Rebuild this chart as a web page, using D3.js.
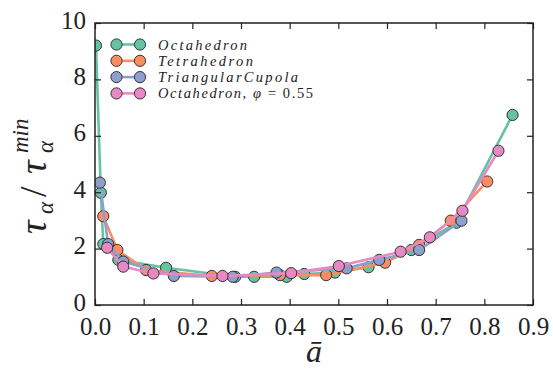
<!DOCTYPE html>
<html>
<head>
<meta charset="utf-8">
<script src="https://cdn.jsdelivr.net/npm/d3@7"></script>
<style>
  body { margin: 0; background: #fff; }
</style>
</head>
<body>
<div id="chart"></div>
<script>
// series: [a_bar, tau/tau_min]
const octahedron = [[0.002, 9.2], [0.012, 3.98], [0.017, 2.16], [0.048, 1.6], [0.146, 1.32],
  [0.288, 1.0], [0.327, 1.0], [0.394, 1.0], [0.43, 1.1], [0.493, 1.15], [0.562, 1.34],
  [0.65, 1.95], [0.743, 2.92], [0.858, 6.74]];
const tetrahedron = [[0.017, 3.15], [0.046, 1.95], [0.105, 1.24], [0.24, 1.03], [0.38, 1.06],
  [0.475, 1.06], [0.596, 1.5], [0.666, 2.13], [0.731, 2.99], [0.806, 4.38]];
const triangularCupola = [[0.01, 4.34], [0.027, 2.16], [0.058, 1.54], [0.162, 1.03], [0.283, 1.0],
  [0.373, 1.15], [0.517, 1.3], [0.584, 1.6], [0.666, 1.95], [0.753, 2.99]];
const octahedronPhi = [[0.025, 2.03], [0.058, 1.36], [0.12, 1.12], [0.262, 1.03], [0.403, 1.13],
  [0.501, 1.38], [0.628, 1.89], [0.688, 2.4], [0.755, 3.34], [0.829, 5.47]];

const seriesNames = ["Octahedron", "Tetrahedron", "TriangularCupola", "Octahedron, φ = 0.55"];
const colors = ["#66c2a5", "#fc8d62", "#8da0cb", "#e78ac3"];
const xTicks = [0, 0.1, 0.2, 0.3, 0.4, 0.5, 0.6, 0.7, 0.8, 0.9];
const yTicks = [0, 2, 4, 6, 8, 10];

const serif = "'Liberation Serif', 'DejaVu Serif', serif";
const margin = {top: 23, right: 20, bottom: 68, left: 95};
const W = 553, H = 373;
const width = W - margin.left - margin.right;
const height = H - margin.top - margin.bottom;

const svg = d3.select("#chart").append("svg")
  .attr("width", W).attr("height", H)
  .attr("font-family", serif);
const chart = svg.append("g")
  .attr("transform", "translate(" + margin.left + "," + margin.top + ")");

const x = d3.scaleLinear().domain([0, 0.9]).range([0, width]);
const y = d3.scaleLinear().domain([0, 10]).range([height, 0]);

svg.append("defs").append("clipPath").attr("id", "clip")
  .append("rect").attr("width", width).attr("height", height);

const all = [octahedron, tetrahedron, triangularCupola, octahedronPhi];
const line = d3.line().x(d => x(d[0])).y(d => y(d[1]));
const plot = chart.append("g").attr("clip-path", "url(#clip)");

all.forEach((data, i) => {
  const g = plot.append("g");
  g.append("path").datum(data)
    .attr("d", line)
    .attr("fill", "none")
    .attr("stroke", colors[i])
    .attr("stroke-width", 2.6);
  g.selectAll("circle").data(data).enter().append("circle")
    .attr("cx", d => x(d[0]))
    .attr("cy", d => y(d[1]))
    .attr("r", 5.6)
    .attr("fill", colors[i])
    .attr("stroke", "#333")
    .attr("stroke-width", 1);
});

// axes, ticks inside on all four sides
const tickLen = 6;
function styleAxis(g) {
  g.attr("font-family", serif);
  g.select(".domain").remove();
  g.selectAll(".tick line").attr("stroke", "#222").attr("stroke-width", 1.2);
  g.selectAll(".tick text").attr("font-size", 25).attr("font-family", serif).attr("fill", "#222");
}
chart.append("g").attr("transform", "translate(0," + height + ")")
  .call(d3.axisBottom(x).tickValues(xTicks).tickSize(-tickLen).tickPadding(12).tickFormat(d3.format(".1f")))
  .call(styleAxis);
chart.append("g")
  .call(d3.axisTop(x).tickValues(xTicks).tickSize(-tickLen).tickFormat(""))
  .call(styleAxis);
chart.append("g")
  .call(d3.axisLeft(y).tickValues(yTicks).tickSize(-tickLen).tickPadding(9).tickFormat(d3.format("d")))
  .call(styleAxis)
  .call(g => g.selectAll(".tick text").attr("transform", "translate(0,-3)"));
chart.append("g").attr("transform", "translate(" + width + ",0)")
  .call(d3.axisRight(y).tickValues(yTicks).tickSize(-tickLen).tickFormat(""))
  .call(styleAxis);

chart.append("rect")
  .attr("width", width).attr("height", height)
  .attr("fill", "none").attr("stroke", "#222").attr("stroke-width", 1.5);

// legend
const legendX1 = 116.5 - margin.left, legendX2 = 140 - margin.left;
const legendY0 = 44.5 - margin.top, legendDy = 16.3;
const legendWidths = [89, 95, 140, 155];
const legend = chart.append("g");
seriesNames.forEach((name, i) => {
  const ly = legendY0 + i * legendDy;
  legend.append("line")
    .attr("x1", legendX1).attr("x2", legendX2).attr("y1", ly).attr("y2", ly)
    .attr("stroke", colors[i]).attr("stroke-width", 2.6);
  [legendX1, legendX2].forEach(cx => legend.append("circle")
    .attr("cx", cx).attr("cy", ly).attr("r", 5.6)
    .attr("fill", colors[i]).attr("stroke", "#333").attr("stroke-width", 1));
  const t = legend.append("text")
    .attr("x", 158 - margin.left).attr("y", ly + 5)
    .attr("font-size", 14.5).attr("fill", "#222")
    .attr("textLength", legendWidths[i]).attr("lengthAdjust", "spacing");
  if (i === 3) {
    t.append("tspan").attr("font-style", "italic").text("Octahedron, φ");
    t.append("tspan").text(" = 0.55");
  } else {
    t.attr("font-style", "italic").text(name);
  }
});

// y label, pieces placed along the rotated baseline
const yl = svg.append("g").attr("transform", "translate(46,234) rotate(-90)");
const yParts = [
  {t: "τ", x: 0, y: 0, size: 38, italic: true},
  {t: "α", x: 20, y: 7, size: 23, italic: true},
  {t: "/", x: 37, y: 0, size: 38, italic: false},
  {t: "τ", x: 60, y: 0, size: 38, italic: true},
  {t: "α", x: 81, y: 7, size: 23, italic: true},
  {t: "min", x: 81, y: -18, size: 23, italic: true}
];
yParts.forEach(p => yl.append("text")
  .attr("x", p.x).attr("y", p.y)
  .attr("font-size", p.size).attr("fill", "#222")
  .attr("font-style", p.italic ? "italic" : "normal")
  .text(p.t));

// x label
svg.append("text")
  .attr("x", margin.left + width / 2).attr("y", 362)
  .attr("text-anchor", "middle").attr("fill", "#222")
  .attr("font-size", 32).attr("font-style", "italic")
  .text("ā");
</script>
</body>
</html>
